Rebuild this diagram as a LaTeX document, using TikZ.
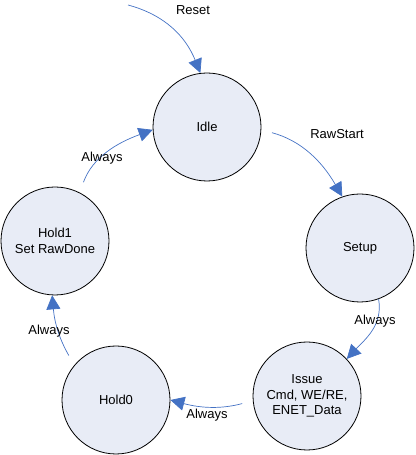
\documentclass[tikz,border=0pt]{standalone}
\usepackage{fontspec}
\setmainfont{Liberation Sans}
\usetikzlibrary{arrows.meta}
\definecolor{fillc}{RGB}{232,236,246}
\definecolor{linec}{RGB}{68,114,196}
\begin{document}
\begin{tikzpicture}[x=1pt,y=1pt,
  state/.style={circle,draw=black,line width=0.8pt,fill=fillc,minimum size=108pt,inner sep=0pt,align=center,font=\fontsize{13}{15.5}\selectfont},
  conn/.style={draw=linec,line width=0.7pt,-{Triangle[length=14pt,width=14pt]}},
  gap/.style={shorten <=11pt},
  lbl/.style={font=\fontsize{13}{15.5}\selectfont,inner sep=0pt}]
\useasboundingbox (0,0) rectangle (415,455);
\node[state] (idle)  at (207,328) {Idle};
\node[state] (setup) at (360,207) {Setup};
\node[state] (issue) at (307,59)  {Issue\\Cmd, WE/RE,\\ENET\_Data};
\node[state] (hold0) at (116,55)  {Hold0};
\node[state] (hold1) at (55,214)  {Hold1\\Set RawDone};
\coordinate (rs) at (128,450);
\draw[conn] (rs) to[out=-15,in=112] (idle.97);
\draw[conn,gap] (idle.-3.5) to[out=-15,in=120] (setup.109);
\draw[conn] (setup.-70) to[out=-80,in=47] (issue.43.5);
\draw[conn,gap] (issue.185) to[out=195,in=-15] (hold0.0);
\draw[conn,gap] (hold0.140) to[out=120,in=-85] (hold1.-93);
\draw[conn,gap] (hold1.63) to[out=70,in=200] (idle.183);
\node[lbl] (lreset) at (193,445) {Reset};
\node[lbl] (lraw) at (337,321) {RawStart};
\node[lbl] (la1) at (375,134) {Always};
\node[lbl] (la2) at (207,40) {Always};
\node[lbl] (la3) at (49,124) {Always};
\node[lbl] (la4) at (102,297) {Always};
\end{tikzpicture}
\end{document}
